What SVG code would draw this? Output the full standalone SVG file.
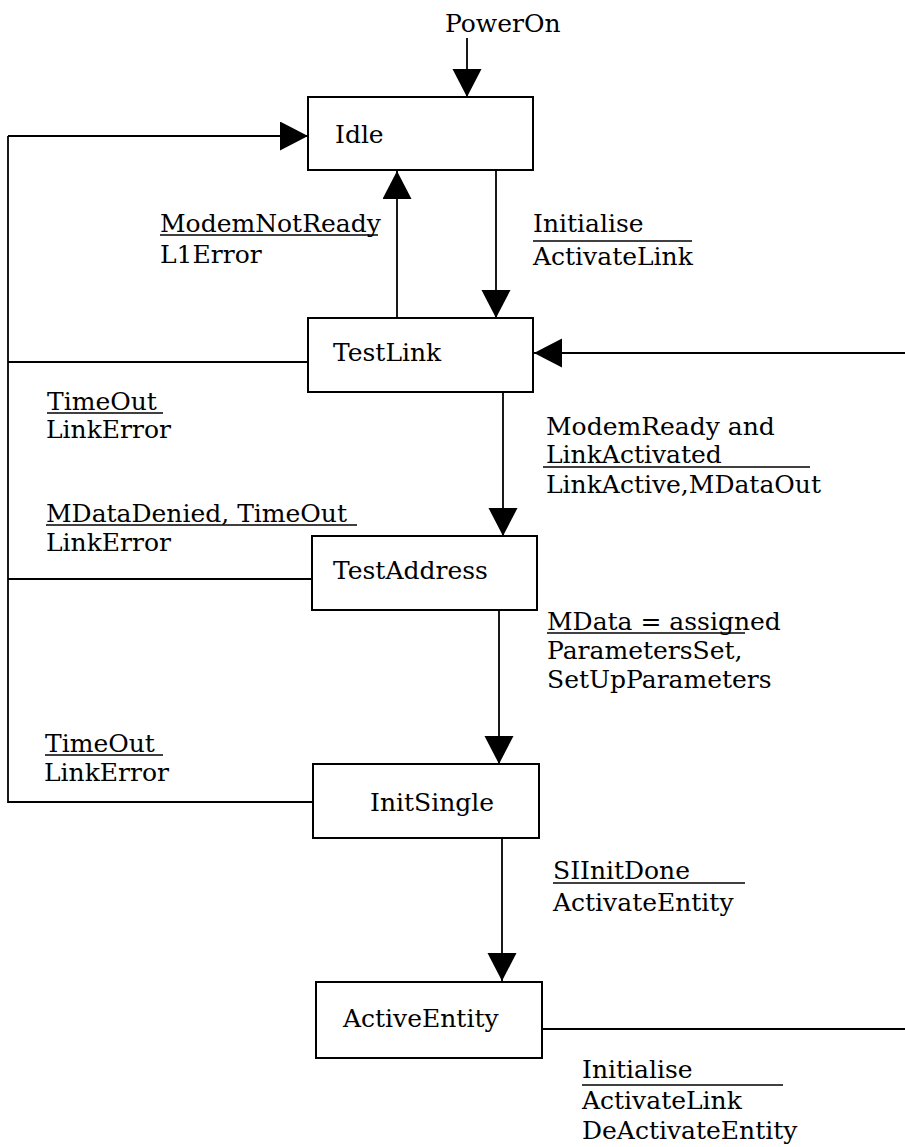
<svg xmlns="http://www.w3.org/2000/svg" width="905" height="1147" viewBox="0 0 905 1147">
  <style>
    .box { fill: #ffffff; stroke: #000000; stroke-width: 2; }
    .wire { fill: none; stroke: #000000; stroke-width: 1.8; }
    .arr { fill: none; stroke: #000000; stroke-width: 1.8; marker-end: url(#head); }
    .bar { stroke: #000000; stroke-width: 1.6; }
    text { font-family: "DejaVu Serif", "Liberation Serif", serif; font-size: 25px; fill: #000000; }
  </style>
  <defs>
    <marker id="head" markerUnits="userSpaceOnUse" markerWidth="30" markerHeight="30" refX="28" refY="14.5" orient="auto">
      <path d="M0,0 L28,14.5 L0,29 Z" fill="#000000"/>
    </marker>
  </defs>
  <rect width="905" height="1147" fill="#ffffff"/>

  <!-- transitions -->
  <g id="connectors">
    <!-- power-on entry -->
    <line class="arr" x1="467" y1="38" x2="467" y2="97"/>
    <!-- error return loop along the left edge -->
    <polyline class="wire" points="308,362 8,362"/>
    <polyline class="wire" points="312,579 8,579"/>
    <polyline class="wire" points="313,802 8,802 8,136"/>
    <line class="arr" x1="8" y1="136" x2="308" y2="136"/>
    <!-- Idle <-> TestLink -->
    <line class="arr" x1="496" y1="170" x2="496" y2="318"/>
    <line class="arr" x1="397" y1="318" x2="397" y2="171"/>
    <!-- re-initialise from ActiveEntity -->
    <line class="arr" x1="905" y1="353" x2="534" y2="353"/>
    <line class="wire" x1="542" y1="1029" x2="905" y2="1029"/>
    <!-- main chain -->
    <line class="arr" x1="503" y1="392" x2="503" y2="536"/>
    <line class="arr" x1="499" y1="610" x2="499" y2="764"/>
    <line class="arr" x1="502" y1="838" x2="502" y2="981"/>
  </g>

  <!-- states -->
  <g id="idle">
    <rect class="box" x="308" y="97" width="225" height="73"/>
    <text x="335" y="143">Idle</text>
  </g>
  <g id="testlink">
    <rect class="box" x="308" y="318" width="225" height="74"/>
    <text x="333" y="361">TestLink</text>
  </g>
  <g id="testaddress">
    <rect class="box" x="312" y="536" width="225" height="74"/>
    <text x="333" y="579">TestAddress</text>
  </g>
  <g id="initsingle">
    <rect class="box" x="313" y="764" width="226" height="74"/>
    <text x="370" y="811">InitSingle</text>
  </g>
  <g id="activeentity">
    <rect class="box" x="316" y="982" width="226" height="76"/>
    <text x="343" y="1027">ActiveEntity</text>
  </g>

  <!-- transition labels: event above the bar, action below -->
  <g id="labels">
    <text x="445" y="32">PowerOn</text>

    <text x="160" y="232">ModemNotReady</text>
    <line class="bar" x1="160" y1="235" x2="378" y2="235"/>
    <text x="160" y="263">L1Error</text>

    <text x="533" y="232">Initialise</text>
    <line class="bar" x1="533" y1="241" x2="692" y2="241"/>
    <text x="533" y="265">ActivateLink</text>

    <text x="47" y="410">TimeOut</text>
    <line class="bar" x1="47" y1="413" x2="163" y2="413"/>
    <text x="46" y="438">LinkError</text>

    <text x="546" y="435">ModemReady and</text>
    <text x="546" y="463">LinkActivated</text>
    <line class="bar" x1="543" y1="467" x2="810" y2="467"/>
    <text x="546" y="493">LinkActive,MDataOut</text>

    <text x="46" y="522">MDataDenied, TimeOut</text>
    <line class="bar" x1="46" y1="525" x2="357" y2="525"/>
    <text x="46" y="551">LinkError</text>

    <text x="547" y="630">MData = assigned</text>
    <line class="bar" x1="547" y1="633" x2="745" y2="633"/>
    <text x="547" y="659">ParametersSet,</text>
    <text x="547" y="688">SetUpParameters</text>

    <text x="45" y="752">TimeOut</text>
    <line class="bar" x1="45" y1="755" x2="163" y2="755"/>
    <text x="44" y="781">LinkError</text>

    <text x="553" y="879">SIInitDone</text>
    <line class="bar" x1="553" y1="883" x2="745" y2="883"/>
    <text x="553" y="911">ActivateEntity</text>

    <text x="582" y="1078">Initialise</text>
    <line class="bar" x1="582" y1="1085" x2="783" y2="1085"/>
    <text x="582" y="1109">ActivateLink</text>
    <text x="582" y="1139">DeActivateEntity</text>
  </g>
</svg>
